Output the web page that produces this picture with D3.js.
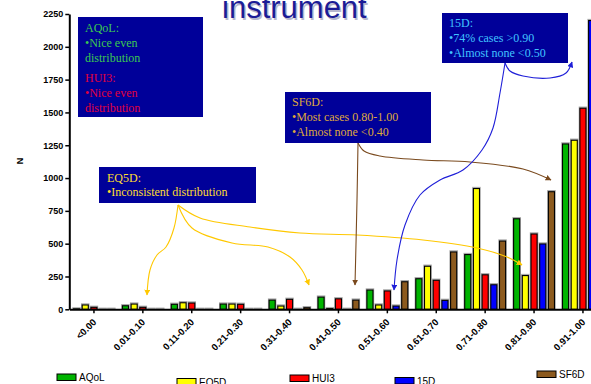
<!DOCTYPE html>
<html>
<head>
<meta charset="utf-8">
<script src="https://cdn.jsdelivr.net/npm/d3@7"></script>
<style>
  body { margin: 0; background: #fff; }
  svg { display: block; }
</style>
</head>
<body>
<script>
// ---- data ----
const categories = ["<0.00", "0.01-0.10", "0.11-0.20", "0.21-0.30", "0.31-0.40",
                    "0.41-0.50", "0.51-0.60", "0.61-0.70", "0.71-0.80", "0.81-0.90", "0.91-1.00"];
const seriesNames = ["AQoL", "EQ5D", "HUI3", "15D", "SF6D"];
const aqolN = [3, 27, 38, 40, 70, 93, 147, 233, 417, 690, 1260];
const eq5dN = [33, 40, 50, 40, 25, 5, 33, 328, 920, 257, 1288];
const hui3N = [15, 15, 48, 38, 76, 80, 140, 221, 263, 574, 1532];
const d15N  = [0, 0, 0, 0, 0, 0, 25, 68, 187, 498, 2200];
const sf6dN = [0, 0, 0, 0, 12, 70, 210, 437, 520, 896, 1150];
const yTicks = [0, 250, 500, 750, 1000, 1250, 1500, 1750, 2000, 2250];
const titleText = "instrument";
const yTitle = "N";

// ---- styles ----
const W = 591, H = 384;
const colors = { "AQoL": "#00b400", "EQ5D": "#ffff00", "HUI3": "#ff0000", "15D": "#0000ff", "SF6D": "#8c5a1e" };
const valuesBySeries = { "AQoL": aqolN, "EQ5D": eq5dN, "HUI3": hui3N, "15D": d15N, "SF6D": sf6dN };
const sans = "'Liberation Sans', Arial, sans-serif";
const serif = "'Liberation Serif', 'Times New Roman', serif";

const svg = d3.select("body").append("svg").attr("width", W).attr("height", H)
  .style("background", "#fff");

// ---- scales ----
const groupStep = 48.9;
const x0 = d3.scaleBand().domain(categories).range([69.5, 69.5 + categories.length * groupStep]);
const x1 = d3.scaleBand().domain(seriesNames).range([2.7, groupStep - 2.7])
  .paddingInner(0.3).paddingOuter(0.15);
const y = d3.scaleLinear().domain([0, 2250]).range([309.3, 14]);

// ---- title ----
svg.append("text").attr("x", 223.5).attr("y", 19.5)
  .attr("font-family", sans).attr("font-size", 31).attr("fill", "#9a9ab8")
  .attr("opacity", 0.7).text(titleText);
svg.append("text").attr("x", 222).attr("y", 18)
  .attr("font-family", sans).attr("font-size", 31).attr("fill", "#1c1c96")
  .text(titleText);

// ---- bars ----
const rows = categories.map((c, i) => ({ cat: c, vals: seriesNames.map(s => ({ s, v: valuesBySeries[s][i] })) }));
const groups = svg.append("g").selectAll("g").data(rows).join("g")
  .attr("transform", d => `translate(${x0(d.cat)},0)`);
groups.selectAll("rect.shadow").data(d => d.vals).join("rect")
  .attr("class", "shadow")
  .attr("x", d => x1(d.s) - 0.5).attr("y", d => y(d.v) - 1)
  .attr("width", x1.bandwidth() + 1).attr("height", d => y(0) - y(d.v) + 1)
  .attr("fill", "none").attr("stroke", "#a8a8a8").attr("stroke-width", 1.4);
groups.selectAll("rect.bar").data(d => d.vals).join("rect")
  .attr("class", "bar")
  .attr("x", d => x1(d.s)).attr("y", d => y(d.v))
  .attr("width", x1.bandwidth()).attr("height", d => y(0) - y(d.v))
  .attr("fill", d => colors[d.s]).attr("stroke", "#000").attr("stroke-width", 1.1);

// ---- axes ----
const yAxis = svg.append("g").attr("transform", "translate(69.3,0)")
  .call(d3.axisLeft(y).tickValues(yTicks).tickFormat(d3.format("d"))
    .tickSize(4).tickSizeOuter(0).tickPadding(2));
yAxis.select(".domain").attr("stroke-width", 2);
yAxis.selectAll(".tick line").attr("stroke-width", 1.5);
yAxis.selectAll(".tick text").attr("font-family", sans).attr("font-size", 9)
  .attr("font-weight", "bold").attr("fill", "#000");

const xAxis = svg.append("g").attr("transform", `translate(0,${y(0)})`)
  .call(d3.axisBottom(x0).tickSize(4).tickSizeOuter(0));
xAxis.select(".domain").attr("stroke-width", 2);
xAxis.selectAll(".tick line").attr("stroke-width", 1.5);
xAxis.selectAll(".tick text")
  .attr("y", null).attr("dy", null).attr("x", null)
  .attr("text-anchor", "end")
  .attr("transform", "translate(3,13.5) rotate(-45)")
  .attr("font-family", sans).attr("font-size", 9.5).attr("font-weight", "bold").attr("fill", "#000");

svg.append("text").attr("transform", "translate(23,161) rotate(-90)")
  .attr("text-anchor", "middle").attr("font-family", sans).attr("font-size", 9)
  .attr("font-weight", "bold").text(yTitle);

// ---- arrows ----
const arrowColors = { eq: "#ffc800", sf: "#7a4a1e", fd: "#1f1fd8" };
const defs = svg.append("defs");
Object.entries(arrowColors).forEach(([k, c]) => {
  defs.append("marker").attr("id", "head-" + k)
    .attr("viewBox", "0 0 10 10").attr("refX", 9).attr("refY", 5)
    .attr("markerWidth", 6).attr("markerHeight", 6).attr("markerUnits", "userSpaceOnUse")
    .attr("orient", "auto")
    .append("path").attr("d", "M0,0 L10,5 L0,10 Z").attr("fill", c);
});
const arrowPaths = [
  { k: "eq", pts: [[178,205],[174,228],[166,247],[157,255],[150,270],[147,295]] },
  { k: "eq", pts: [[178,205],[192,228],[232,243],[268,247],[290,257],[302,270],[309,285]] },
  { k: "eq", pts: [[178,205],[200,218],[250,227],[300,233],[357,235],[423,240],[477,248],[507,257],[522,265]] },
  { k: "sf", pts: [[358,143],[357,200],[355,285]] },
  { k: "sf", pts: [[358,143],[364,151],[380,156],[423,160],[470,162],[523,169],[551,180]] },
  { k: "fd", pts: [[505,63],[510,71],[523,76],[550,78],[566,73],[572,62]] },
  { k: "fd", pts: [[505,63],[500,93],[493,128],[482,150],[463,170],[440,180],[420,195],[405,225],[397,260],[394,290]] }
];
const curve = d3.line().curve(d3.curveCatmullRom.alpha(0.5));
svg.append("g").selectAll("path").data(arrowPaths).join("path")
  .attr("d", d => curve(d.pts)).attr("fill", "none")
  .attr("stroke", d => arrowColors[d.k]).attr("stroke-width", 1.1)
  .attr("marker-end", d => `url(#head-${d.k})`);

// ---- annotation boxes ----
const noteGreen = "#3cc850", noteRed = "#e0003c", noteGold = "#dfa83c",
      noteCyan = "#40c4ff", noteYellow = "#ffdc30";
const notes = [
  { x: 78, y: 17, w: 125, h: 100, tx: 85, lines: [
    ["AQoL:", 32, noteGreen], ["•Nice even", 47, noteGreen], ["distribution", 62, noteGreen],
    ["HUI3:", 82, noteRed], ["•Nice even", 97, noteRed], ["distribution", 111.5, noteRed] ] },
  { x: 285, y: 92, w: 146, h: 51, tx: 292, lines: [
    ["SF6D:", 106, noteGold], ["•Most cases 0.80-1.00", 121, noteGold], ["•Almost none <0.40", 136, noteGold] ] },
  { x: 442, y: 13, w: 126, h: 50, tx: 449, lines: [
    ["15D:", 26.5, noteCyan], ["•74% cases >0.90", 41.5, noteCyan], ["•Almost none <0.50", 56.5, noteCyan] ] },
  { x: 99, y: 167, w: 157, h: 36, tx: 107, lines: [
    ["EQ5D:", 181.5, noteYellow], ["•Inconsistent distribution", 196, noteYellow] ] }
];
const noteG = svg.append("g").selectAll("g").data(notes).join("g");
noteG.append("rect").attr("x", d => d.x).attr("y", d => d.y)
  .attr("width", d => d.w).attr("height", d => d.h).attr("fill", "#000099");
noteG.selectAll("text").data(d => d.lines.map(l => ({ t: l[0], y: l[1], c: l[2], x: d.tx })))
  .join("text").attr("x", d => d.x).attr("y", d => d.y).attr("fill", d => d.c)
  .attr("font-family", serif).attr("font-size", 12).text(d => d.t);

// ---- legend ----
const legendPos = [[57, 374], [177, 378.5], [290, 375], [395, 377.5], [537, 371]];
const leg = svg.append("g").selectAll("g").data(seriesNames).join("g")
  .attr("transform", (d, i) => `translate(${legendPos[i][0]},${legendPos[i][1]})`);
leg.append("rect").attr("width", 19).attr("height", 6.5)
  .attr("fill", d => colors[d]).attr("stroke", "#000").attr("stroke-width", 1);
leg.append("text").attr("x", 22).attr("y", 7).attr("font-family", sans)
  .attr("font-size", 10).attr("fill", "#000").text(d => d);
</script>
</body>
</html>
